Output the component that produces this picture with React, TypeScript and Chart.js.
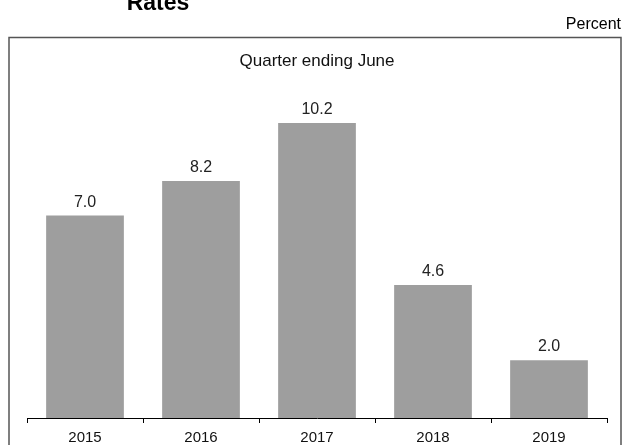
import React, { useEffect, useRef } from "react";
import { Chart, registerables } from "chart.js";

Chart.register(...registerables);

const categories = ["2015", "2016", "2017", "2018", "2019"];
const values = [7.0, 8.2, 10.2, 4.6, 2.0];
const chartTitle = "Rates";
const unitLabel = "Percent";
const subTitle = "Quarter ending June";

const FONT = "'Liberation Sans', Arial, Helvetica, sans-serif";

const decorPlugin = {
  id: "decor",
  beforeDraw(chart: any) {
    const ctx = chart.ctx;
    ctx.save();
    ctx.strokeStyle = "#555";
    ctx.lineWidth = 1.5;
    ctx.strokeRect(9, 37.5, 612, 600);
    ctx.fillStyle = "#000";
    ctx.font = `bold 23px ${FONT}`;
    ctx.textAlign = "center";
    ctx.textBaseline = "alphabetic";
    ctx.fillText(chartTitle, 158, 10);
    ctx.font = `16px ${FONT}`;
    ctx.textAlign = "right";
    ctx.fillText(unitLabel, 621, 29);
    ctx.font = `17px ${FONT}`;
    ctx.textAlign = "center";
    ctx.fillStyle = "#111";
    ctx.fillText(subTitle, (chart.chartArea.left + chart.chartArea.right) / 2, 66);
    ctx.restore();
  },
  afterDatasetsDraw(chart: any) {
    const ctx = chart.ctx;
    const meta = chart.getDatasetMeta(0);
    ctx.save();
    ctx.font = `16px ${FONT}`;
    ctx.fillStyle = "#222";
    ctx.textAlign = "center";
    ctx.textBaseline = "alphabetic";
    meta.data.forEach((bar: any, i: number) => {
      ctx.fillText(values[i].toFixed(1), bar.x, bar.y - 9);
    });
    ctx.restore();
  },
};

export default function App() {
  const ref = useRef<HTMLCanvasElement>(null);
  useEffect(() => {
    if (!ref.current) return;
    const chart = new Chart(ref.current, {
      type: "bar",
      data: {
        labels: categories,
        datasets: [
          {
            data: values,
            backgroundColor: "#9e9e9e",
            borderWidth: 0,
            categoryPercentage: 0.67,
            barPercentage: 1,
          },
        ],
      },
      options: {
        animation: false,
        responsive: false,
        maintainAspectRatio: false,
        layout: { padding: { left: 27, right: 20, top: 71, bottom: 0 } },
        plugins: { legend: { display: false }, tooltip: { enabled: false } },
        scales: {
          x: {
            offset: true,
            grid: {
              offset: true,
              drawOnChartArea: false,
              drawTicks: true,
              tickLength: 5,
              color: "#000",
            },
            border: { display: true, color: "#000", width: 1 },
            ticks: {
              color: "#111",
              font: { family: FONT, size: 15 },
              padding: 6,
              maxRotation: 0,
            },
          },
          y: { display: false, min: 0, max: 12 },
        },
      },
      plugins: [decorPlugin],
    });
    return () => chart.destroy();
  }, []);
  return (
    <div style={{ position: "fixed", left: 0, top: 0, width: 627, height: 445, overflow: "hidden", background: "#fff" }}>
      <canvas ref={ref} width={627} height={453} style={{ display: "block" }} />
    </div>
  );
}
